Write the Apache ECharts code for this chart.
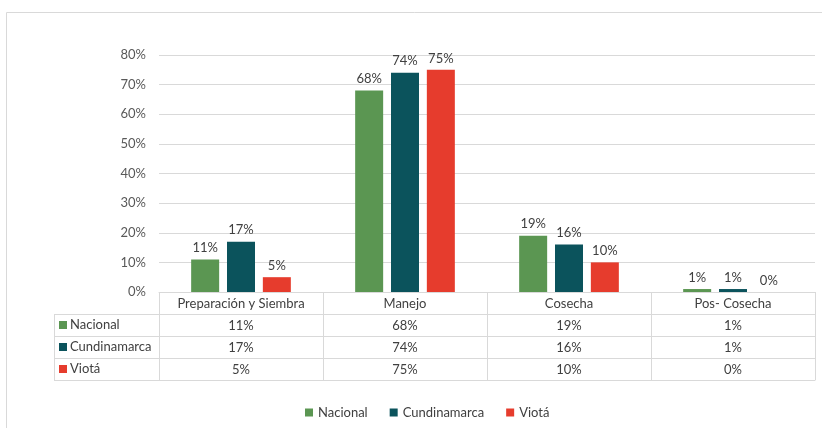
<!DOCTYPE html>
<html>
<head>
<meta charset="utf-8">
<script src="https://cdn.jsdelivr.net/npm/echarts@6/dist/echarts.min.js"></script>
<style>
    html, body { margin: 0; padding: 0; background: #fff; }
    #chart { width: 822px; height: 428px; }
</style>
</head>
<body>
<div id="chart"></div>
<script>
// datos (en %)
var categories = ['Preparación y Siembra', 'Manejo', 'Cosecha', 'Pos- Cosecha'];
var nacional = [11, 68, 19, 1];
var cundinamarca = [17, 74, 16, 1];
var viota = [5, 75, 10, 0];
var seriesNames = ['Nacional', 'Cundinamarca', 'Viotá'];
var yMin = 0, yMax = 80, yStep = 10;

var colors = ['#5b9652', '#0b535c', '#e63c2d'];
var rows = [nacional, cundinamarca, viota];

// medidas del gráfico
var FONT = 'Lato';
var GRID_LEFT = 159, GRID_RIGHT = 7, GRID_TOP = 55, AXIS_Y = 292, ROW_H = 22;
var TABLE_LEFT = 54;
var lineColor = '#d9d9d9';
var textColor = '#404040';

// un eje x por fila de la tabla de datos
function tableAxis(k) {
    var row = k >= 1 && k <= rows.length ? rows[k - 1] : null;
    return {
        type: 'category',
        data: categories,
        gridIndex: 0,
        position: 'bottom',
        offset: k * ROW_H,
        axisLine: { show: true, lineStyle: { color: lineColor, width: 1 } },
        axisTick: { show: k <= rows.length, interval: 0, length: ROW_H, lineStyle: { color: lineColor } },
        axisLabel: {
            show: k <= rows.length,
            interval: 0,
            margin: 5,
            color: textColor,
            fontFamily: FONT,
            fontSize: 13,
            formatter: function (v, idx) { return row ? row[idx] + '%' : v; }
        },
        splitLine: { show: false }
    };
}
var xAxes = [];
for (var k = 0; k <= rows.length + 1; k++) xAxes.push(tableAxis(k));

// columna izquierda de la tabla (nombres de las series)
var graphics = [
    { type: 'rect', silent: true, shape: { x: 6.5, y: 12.5, width: 900, height: 500 },
      style: { fill: 'none', stroke: lineColor, lineWidth: 1 } }
];
for (var r = 0; r <= rows.length; r++) {
    var ly = AXIS_Y + ROW_H * (r + 1) + 0.5;
    graphics.push({ type: 'line', silent: true, shape: { x1: TABLE_LEFT, y1: ly, x2: GRID_LEFT, y2: ly },
        style: { stroke: lineColor, lineWidth: 1 } });
}
graphics.push({ type: 'line', silent: true,
    shape: { x1: TABLE_LEFT + 0.5, y1: AXIS_Y + ROW_H, x2: TABLE_LEFT + 0.5, y2: AXIS_Y + ROW_H * (rows.length + 1) },
    style: { stroke: lineColor, lineWidth: 1 } });
seriesNames.forEach(function (name, i) {
    var cy = AXIS_Y + ROW_H * (i + 1) + ROW_H / 2;
    graphics.push({ type: 'rect', silent: true, shape: { x: TABLE_LEFT + 5, y: cy - 4, width: 8, height: 8 },
        style: { fill: colors[i] } });
    graphics.push({ type: 'text', silent: true, x: TABLE_LEFT + 16, y: cy,
        style: { text: name, fill: textColor, font: '13px ' + FONT, verticalAlign: 'middle' } });
});

var chart = echarts.init(document.getElementById('chart'));
chart.setOption({
    animation: false,
    color: colors,
    textStyle: { fontFamily: FONT },
    grid: { left: GRID_LEFT, right: GRID_RIGHT, top: GRID_TOP, bottom: 428 - AXIS_Y, containLabel: false },
    legend: {
        data: seriesNames,
        left: 300,
        top: 401,
        icon: 'rect',
        itemWidth: 8,
        itemHeight: 8,
        itemGap: 22,
        textStyle: { color: textColor, fontSize: 13, fontFamily: FONT }
    },
    xAxis: xAxes,
    yAxis: {
        type: 'value',
        min: yMin,
        max: yMax,
        interval: yStep,
        axisLine: { show: false },
        axisTick: { show: false },
        axisLabel: { formatter: '{value}%', color: '#595959', fontSize: 13, fontFamily: FONT, margin: 13 },
        splitLine: { lineStyle: { color: lineColor } }
    },
    series: seriesNames.map(function (name, i) {
        return {
            name: name,
            type: 'bar',
            xAxisIndex: 0,
            data: rows[i],
            barWidth: 28,
            barGap: '28%',
            label: {
                show: true,
                position: 'top',
                distance: 5,
                formatter: '{c}%',
                color: textColor,
                fontSize: 13,
                fontFamily: FONT
            }
        };
    }),
    graphic: graphics
});
</script>
</body>
</html>
